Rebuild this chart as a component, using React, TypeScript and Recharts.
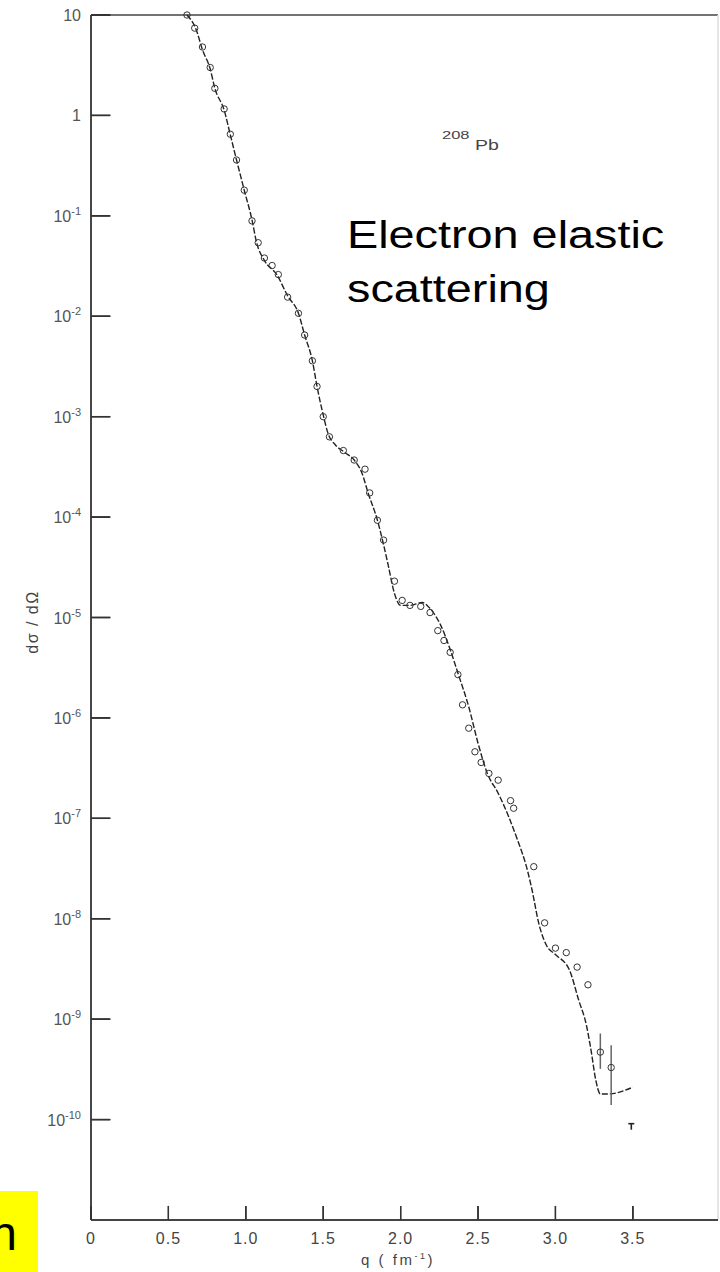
import { ComposedChart, Line, Scatter, XAxis, YAxis, ReferenceLine, ErrorBar } from 'recharts'

// theory curve
const curveQ = [
  0.62, 0.68, 0.72, 0.77, 0.8, 0.86, 0.9, 0.94, 0.99, 1.04, 1.07, 1.12, 1.2, 1.27, 1.34, 1.38, 1.43, 1.46, 1.5, 1.53,
  1.58, 1.64, 1.7, 1.75, 1.79, 1.85, 1.89, 1.92, 1.96, 2.0, 2.06, 2.14, 2.19, 2.26, 2.32, 2.37, 2.44, 2.5, 2.56, 2.63,
  2.7, 2.75, 2.82, 2.85, 2.89, 2.94, 3.0, 3.09, 3.15, 3.2, 3.23, 3.26, 3.29, 3.34, 3.5,
]
const curveSigma = [
  10, 7.1, 4.5, 2.9, 1.86, 1.13, 0.64, 0.36, 0.18, 0.091, 0.054, 0.036, 0.026, 0.016, 0.0107, 0.0065, 0.0036, 0.002,
  1.04e-3, 6.9e-4, 5.2e-4, 4.4e-4, 3.7e-4, 2.75e-4, 1.74e-4, 9.3e-5, 5.3e-5, 3.3e-5, 1.74e-5, 1.32e-5, 1.32e-5, 1.41e-5,
  1.23e-5, 8.3e-6, 4.8e-6, 2.8e-6, 1.29e-6, 5.6e-7, 2.8e-7, 1.78e-7, 1.02e-7, 6.4e-8, 3.0e-8, 1.9e-8, 9.3e-9, 5.5e-9,
  4.4e-9, 3.1e-9, 1.55e-9, 8.7e-10, 4.9e-10, 2.5e-10, 1.8e-10, 1.8e-10, 2.1e-10,
]

// measured points
const pointQ = [
  0.62, 0.67, 0.72, 0.77, 0.8, 0.86, 0.9, 0.94, 0.99, 1.04, 1.08, 1.12, 1.17, 1.21, 1.27, 1.34, 1.38, 1.43, 1.46, 1.5,
  1.54, 1.63, 1.7, 1.77, 1.8, 1.85, 1.89, 1.96, 2.01, 2.06, 2.13, 2.19, 2.24, 2.28, 2.32, 2.37, 2.4, 2.44, 2.48, 2.52,
  2.57, 2.63, 2.71, 2.73, 2.86, 2.93, 3.0, 3.07, 3.14, 3.21,
]
const pointSigma = [
  10, 7.4, 4.8, 3.0, 1.86, 1.16, 0.65, 0.36, 0.18, 0.089, 0.054, 0.038, 0.032, 0.026, 0.0155, 0.0107, 0.0065, 0.0036,
  0.002, 1.0e-3, 6.3e-4, 4.6e-4, 3.7e-4, 3.0e-4, 1.74e-4, 9.3e-5, 5.9e-5, 2.3e-5, 1.48e-5, 1.32e-5, 1.29e-5, 1.12e-5,
  7.4e-6, 5.9e-6, 4.5e-6, 2.7e-6, 1.35e-6, 7.9e-7, 4.6e-7, 3.6e-7, 2.8e-7, 2.4e-7, 1.5e-7, 1.26e-7, 3.3e-8, 9.1e-9,
  5.1e-9, 4.6e-9, 3.3e-9, 2.2e-9,
]

// last points carry error bars [down, up]
const errQ = [3.29, 3.36]
const errSigma = [4.7e-10, 3.3e-10]
const errRange = [
  [1.5e-10, 2.5e-10],
  [1.9e-10, 2.2e-10],
]

// upper limit marker
const limitQ = [3.49]
const limitSigma = [8.5e-11]

const xTicks = [0, 0.5, 1.0, 1.5, 2.0, 2.5, 3.0, 3.5]
const yTicks = [1e-10, 1e-9, 1e-8, 1e-7, 1e-6, 1e-5, 1e-4, 1e-3, 1e-2, 1e-1, 1, 10]

const X_MAX = 4.05
const Y_MIN = 1e-11
const Y_TICK_LEN = 0.125 // in q units, inward from the y axis
const X_TICK_TOP = Y_MIN * 1.38 // inward from the x axis

const curveData = curveQ.map((q, i) => ({ q, sigma: curveSigma[i] }))
const pointData = pointQ.map((q, i) => ({ q, sigma: pointSigma[i] }))
const errData = errQ.map((q, i) => ({ q, sigma: errSigma[i], err: errRange[i] }))
const limitData = limitQ.map((q, i) => ({ q, sigma: limitSigma[i] }))
// anchors for the inward tick marks, placed through the chart scales
const yTickMarks = yTicks.map((v) => ({ q: 0, sigma: v, len: [0, Y_TICK_LEN] }))
const xTickMarks = xTicks.map((v) => ({ q: v, sigma: Y_MIN, len: [0, X_TICK_TOP - Y_MIN] }))

const FONT = '"Liberation Sans", Arial, sans-serif'

const YTick = ({ x, y, payload }: any) => {
  const exp = Math.round(Math.log10(payload.value))
  return (
    <text x={x - 8} y={y + 6} textAnchor="end" fontSize={16} fill="#555" fontFamily={FONT}>
      {exp === 0 ? '1' : '10'}
      {exp < 0 && (
        <tspan dy={-7} fontSize={11}>
          {'-' + Math.abs(exp)}
        </tspan>
      )}
    </text>
  )
}

const XTick = ({ x, y, payload }: any) => (
  <text x={x} y={y + 22} textAnchor="middle" fontSize={16} fill="#444" fontFamily={FONT} letterSpacing={1}>
    {payload.value === 0 ? '0' : payload.value.toFixed(1)}
  </text>
)

const OpenCircle = ({ cx, cy }: any) => <circle cx={cx} cy={cy} r={3.2} fill="none" stroke="#333" strokeWidth={1} />

const LimitMark = ({ cx, cy }: any) => (
  <g stroke="#222" strokeWidth={1.6}>
    <line x1={cx - 3} x2={cx + 3} y1={cy - 3} y2={cy - 3} />
    <line x1={cx} x2={cx} y1={cy - 3} y2={cy + 3} />
  </g>
)

const YTickMark = ({ cx, cy }: any) => <rect x={cx} y={cy - 0.7} width={19} height={1.4} fill="#333" />
const XTickMark = ({ cx, cy }: any) => <rect x={cx - 0.65} y={cy - 14} width={1.3} height={14} fill="#333" />

export default function App() {
  return (
    <div style={{ position: 'absolute', left: 0, top: 0, width: 720, height: 1272, background: '#fff' }}>
      <ComposedChart width={720} height={1272} margin={{ top: 15, right: 2, left: 0, bottom: 0 }}>
        <XAxis
          type="number"
          dataKey="q"
          domain={[0, X_MAX]}
          ticks={xTicks}
          tick={<XTick />}
          tickLine={false}
          tickSize={0}
          height={52}
          axisLine={{ stroke: '#444', strokeWidth: 1.8 }}
        />
        <YAxis
          type="number"
          dataKey="sigma"
          scale="log"
          domain={[Y_MIN, 10]}
          ticks={yTicks}
          tick={<YTick />}
          tickLine={false}
          tickSize={0}
          width={91}
          axisLine={{ stroke: '#333', strokeWidth: 1.8 }}
        />
        <ReferenceLine y={10} stroke="#444" strokeWidth={1.5} />
        <ReferenceLine x={X_MAX} stroke="#ddd" strokeWidth={1.5} />
        {yTicks.map((v) => (
          <ReferenceLine
            key={`ys-${v}`}
            ifOverflow="visible"
            segment={[
              { x: 0, y: v },
              { x: Y_TICK_LEN, y: v },
            ]}
            stroke="#333"
            strokeWidth={1.3}
          />
        ))}
        {xTicks.map((v) => (
          <ReferenceLine
            key={`xs-${v}`}
            ifOverflow="visible"
            segment={[
              { x: v, y: Y_MIN },
              { x: v, y: X_TICK_TOP },
            ]}
            stroke="#333"
            strokeWidth={1.2}
          />
        ))}
        <Line
          data={curveData}
          dataKey="sigma"
          type="monotone"
          stroke="#222"
          strokeWidth={1.4}
          strokeDasharray="6 2"
          dot={false}
          isAnimationActive={false}
        />
        <Scatter data={pointData} dataKey="sigma" shape={<OpenCircle />} isAnimationActive={false} />
        <Scatter data={errData} dataKey="sigma" shape={<OpenCircle />} isAnimationActive={false}>
          <ErrorBar dataKey="err" direction="y" width={0} stroke="#666" strokeWidth={1.5} />
        </Scatter>
        <Scatter data={limitData} dataKey="sigma" shape={<LimitMark />} isAnimationActive={false} />
        <Scatter data={yTickMarks} dataKey="sigma" shape={<YTickMark />} isAnimationActive={false}>
          <ErrorBar dataKey="len" direction="x" width={0} stroke="#333" strokeWidth={1.3} />
        </Scatter>
        <Scatter data={xTickMarks} dataKey="sigma" shape={<XTickMark />} isAnimationActive={false}>
          <ErrorBar dataKey="len" direction="y" width={0} stroke="#333" strokeWidth={1.2} />
        </Scatter>
      </ComposedChart>
      <svg width={720} height={1272} style={{ position: 'absolute', left: 0, top: 0, pointerEvents: 'none' }}>
        <text transform="translate(442,139) scale(1.5,1)" fontSize={11} fill="#444" fontFamily={FONT}>
          208
        </text>
        <text transform="translate(475,150) scale(1.3,1)" fontSize={15} fill="#444" fontFamily={FONT}>
          Pb
        </text>
        <text transform="translate(347,248) scale(1.2,1)" fontSize={39} fill="#000" fontFamily={FONT}>
          Electron elastic
        </text>
        <text transform="translate(347,302) scale(1.2,1)" fontSize={39} fill="#000" fontFamily={FONT}>
          scattering
        </text>
        <text
          transform="translate(38,622) rotate(-90)"
          textAnchor="middle"
          fontSize={16}
          letterSpacing={1.5}
          fill="#444"
          fontFamily={FONT}
        >
          dσ / dΩ
        </text>
        <text x={398} y={1265} textAnchor="middle" fontSize={15} letterSpacing={2.5} fill="#444" fontFamily={FONT}>
          q ( fm
          <tspan dy={-6} fontSize={9}>
            -1
          </tspan>
          <tspan dy={6}>)</tspan>
        </text>
        <rect x={0} y={1191} width={38} height={81} fill="#ffff00" />
        <text x={17} y={1250} textAnchor="end" fontSize={48} fill="#000" fontFamily={FONT}>
          n
        </text>
      </svg>
    </div>
  )
}
